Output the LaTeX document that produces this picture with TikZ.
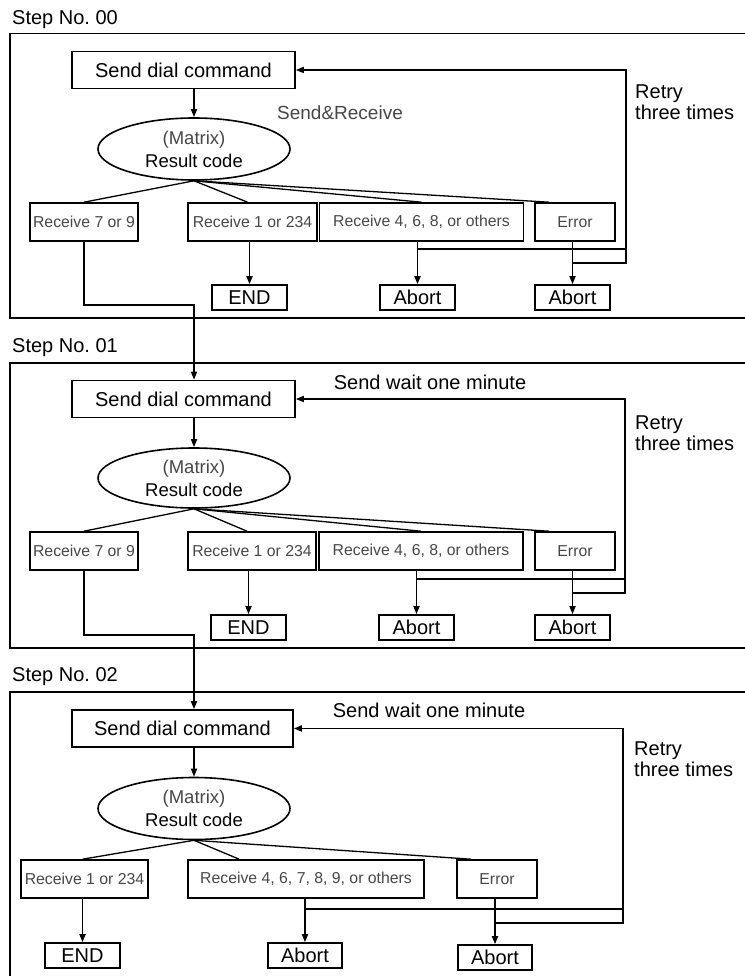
\documentclass[tikz,border=0pt]{standalone}
\usepackage{fontspec}
\setmainfont{Liberation Sans}
\usetikzlibrary{arrows.meta, shapes.geometric}
\definecolor{darktext}{gray}{0.28}

\begin{document}
\begin{tikzpicture}[x=1pt, y=-1pt, >={Triangle[length=8pt, width=6pt]},
    frame/.style={line width=1.2pt},
    link/.style={line width=1.6pt},
    cmdbox/.style={draw, line width=1.6pt, inner sep=0pt, minimum width=223pt, minimum height=37pt, font=\fontsize{20}{22}\selectfont},
    codeell/.style={draw, ellipse, line width=1.6pt, inner sep=0pt, minimum width=192pt, minimum height=62pt, align=center, font=\fontsize{18.5}{23}\selectfont},
    recbox/.style={draw, line width=1.6pt, inner sep=0pt, minimum height=38pt, text=darktext, font=\fontsize{15.8}{18}\selectfont},
    endbox/.style={draw, line width=1.6pt, inner sep=0pt, minimum width=75pt, minimum height=25pt, font=\fontsize{20}{22}\selectfont},
    steplabel/.style={anchor=west, inner sep=0pt, font=\fontsize{20}{22}\selectfont},
    note/.style={inner sep=0pt, font=\fontsize{20}{20.5}\selectfont},
    retry/.style={note, anchor=west, align=left}]
    \useasboundingbox (0,0) rectangle (744,976);

    % Step No. 00
    \node[steplabel] (step0) at (12,20) {Step No.\ 00};
    \draw[frame] (10,33.5) rectangle (760,318);
    \node[cmdbox] (send0) at (183.5,70) {Send dial command};
    \node[note, text=darktext, font=\fontsize{19}{22}\selectfont] (sr0) at (340,113) {Send\&Receive};
    \node[retry] (retry0) at (635,102) {Retry\\three times};
    \node[codeell] (ell0) at (194,149) {{\color{darktext}(Matrix)}\\Result code};
    \node[recbox, minimum width=108pt] (ra0) at (84,222) {Receive 7 or 9};
    \node[recbox, minimum width=129pt] (rb0) at (252.5,222) {Receive 1 or 234};
    \node[recbox, minimum width=204pt] (rc0) at (421.5,222) {Receive 4, 6, 8, or others};
    \node[recbox, minimum width=80pt] (re0) at (575,222) {Error};
    \node[endbox] (end0) at (249.5,297.5) {END};
    \node[endbox] (ab0a) at (417.5,297.5) {Abort};
    \node[endbox] (ab0b) at (572.5,297.5) {Abort};
    \coordinate (top0) at (626,70);
    \coordinate (mid0) at (626,249);
    \coordinate (low0) at (626,263);
    \coordinate (bend0) at (194,305);

    \draw[link, ->] (ell0.north |- send0.south) -- (ell0.north);
    \draw[line width=1.3pt] (ell0.south) -- (ra0.north);
    \draw[line width=1.3pt] (ell0.south) -- ([xshift=-5pt]rb0.north);
    \draw[line width=1.3pt] (ell0.south) -- (rc0.north);
    \draw[line width=1.3pt] (ell0.south) -- ([xshift=-26pt]re0.north);
    \draw[link, ->] (end0.north |- rb0.south) -- (end0.north);
    \draw[link, ->] (ab0a.north |- rc0.south) -- (ab0a.north);
    \draw[link, ->] (ab0b.north |- re0.south) -- (ab0b.north);
    \draw[link] (ab0a.north |- mid0) -- (mid0);
    \draw[link, ->] (ab0b.north |- low0) -- (low0) -- (top0) -- (send0.east);

    % Step No. 01
    \node[steplabel] (step1) at (12,348) {Step No.\ 01};
    \draw[frame] (10,363) rectangle (760,648);
    \node[cmdbox] (send1) at (183.5,399) {Send dial command};
    \node[note] (wait1) at (430,382) {Send wait one minute};
    \node[retry] (retry1) at (635,433) {Retry\\three times};
    \node[codeell, minimum height=60pt] (ell1) at (194,478) {{\color{darktext}(Matrix)}\\Result code};
    \node[recbox, minimum width=108pt] (ra1) at (84,551) {Receive 7 or 9};
    \node[recbox, minimum width=128pt] (rb1) at (252,551) {Receive 1 or 234};
    \node[recbox, minimum width=204pt] (rc1) at (421,551) {Receive 4, 6, 8, or others};
    \node[recbox, minimum width=80pt] (re1) at (575,551) {Error};
    \node[endbox] (end1) at (248.5,627.5) {END};
    \node[endbox] (ab1a) at (416.5,627.5) {Abort};
    \node[endbox] (ab1b) at (572.5,627.5) {Abort};
    \coordinate (top1) at (625,399);
    \coordinate (mid1) at (625,579);
    \coordinate (low1) at (625,593);
    \coordinate (bend1) at (194,635);

    \draw[link, ->] (ra0.south) |- (bend0) -- (bend0 |- send1.north);
    \draw[link, ->] (ell1.north |- send1.south) -- (ell1.north);
    \draw[line width=1.3pt] (ell1.south) -- (ra1.north);
    \draw[line width=1.3pt] (ell1.south) -- ([xshift=-5pt]rb1.north);
    \draw[line width=1.3pt] (ell1.south) -- (rc1.north);
    \draw[line width=1.3pt] (ell1.south) -- ([xshift=-26pt]re1.north);
    \draw[link, ->] (end1.north |- rb1.south) -- (end1.north);
    \draw[link, ->] (ab1a.north |- rc1.south) -- (ab1a.north);
    \draw[link, ->] (ab1b.north |- re1.south) -- (ab1b.north);
    \draw[link] (ab1a.north |- mid1) -- (mid1);
    \draw[link, ->] (ab1b.north |- low1) -- (low1) -- (top1) -- (send1.east);

    % Step No. 02
    \node[steplabel] (step2) at (12,677) {Step No.\ 02};
    \draw[frame] (10,692) rectangle (760,990);
    \node[cmdbox, minimum width=221pt] (send2) at (182.5,728.5) {Send dial command};
    \node[note] (wait2) at (429,710) {Send wait one minute};
    \node[retry] (retry2) at (634,759) {Retry\\three times};
    \node[codeell] (ell2) at (194,808.5) {{\color{darktext}(Matrix)}\\Result code};
    \node[recbox, minimum width=127pt] (ra2) at (84.5,879) {Receive 1 or 234};
    \node[recbox, minimum width=236pt] (rb2) at (306,879) {Receive 4, 6, 7, 8, 9, or others};
    \node[recbox, minimum width=80pt] (re2) at (497,879) {Error};
    \node[endbox] (end2) at (82.5,955.5) {END};
    \node[endbox, minimum width=74pt] (ab2a) at (305,955.5) {Abort};
    \node[endbox, minimum width=74pt] (ab2b) at (495,957.5) {Abort};
    \coordinate (top2) at (623,728.5);
    \coordinate (mid2) at (623,909);
    \coordinate (low2) at (623,923);

    \draw[link, ->] (ra1.south) |- (bend1) -- (bend1 |- send2.north);
    \draw[link, ->] (ell2.north |- send2.south) -- (ell2.north);
    \draw[line width=1.3pt] (ell2.south) -- ([xshift=-2pt]ra2.north);
    \draw[line width=1.3pt] (ell2.south) -- ([xshift=52pt]rb2.north west);
    \draw[line width=1.3pt] (ell2.south) -- ([xshift=15pt]re2.north west);
    \draw[link, ->] (end2.north |- ra2.south) -- (end2.north);
    \draw[link, ->] (ab2a.north |- rb2.south) -- (ab2a.north);
    \draw[link, ->] (ab2b.north |- re2.south) -- (ab2b.north);
    \draw[link] (ab2a.north |- mid2) -- (mid2);
    \draw[link, ->] (ab2b.north |- low2) -- (low2) -- (top2) -- (send2.east);
\end{tikzpicture}
\end{document}
